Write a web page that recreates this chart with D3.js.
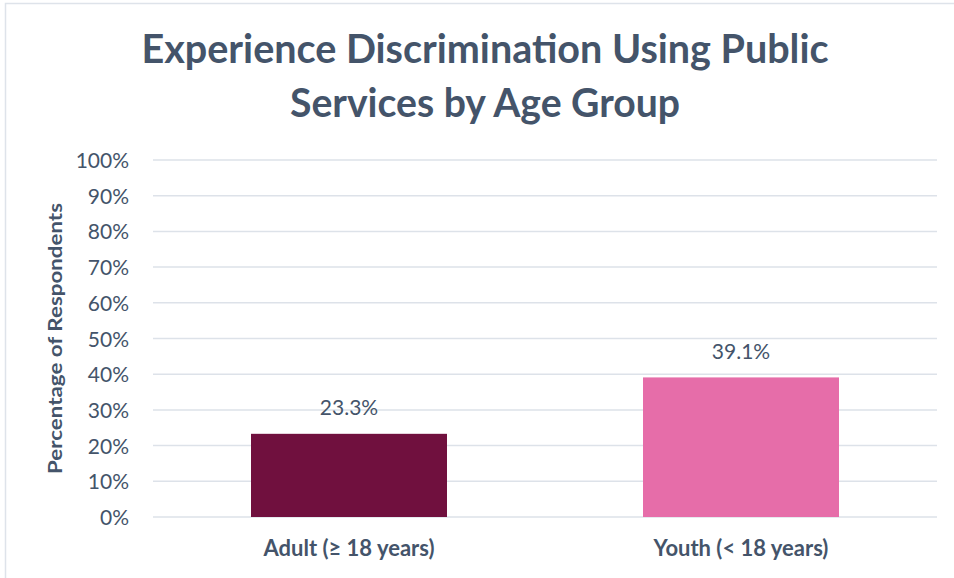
<!DOCTYPE html>
<html>
<head>
<meta charset="utf-8">
<script src="https://cdn.jsdelivr.net/npm/d3@7"></script>
<style>
  html, body { margin: 0; padding: 0; background: #fff; }
  svg { display: block; }
</style>
</head>
<body>
<svg id="chart" width="954" height="578"></svg>
<script>
const categories = ["Adult (\u2265 18 years)", "Youth (< 18 years)"];
const values = [23.3, 39.1];
const barColors = ["#70103E", "#E66DA9"];
const yTicks = [0, 10, 20, 30, 40, 50, 60, 70, 80, 90, 100];
const titleLines = ["Experience Discrimination Using Public", "Services by Age Group"];
const yAxisTitle = "Percentage of Respondents";

const textColor = "#44546A";
const font = "Lato, 'Open Sans', sans-serif";

const svg = d3.select("#chart");
const W = 954, H = 578;
const m = { left: 153, right: 17, top: 160, bottom: 61 };

// outer frame
svg.append("path")
  .attr("d", `M5.5,${H} V3.5 H${W}`)
  .attr("fill", "none").attr("stroke", "#DEE3EA").attr("stroke-width", 1.5);

const x = d3.scaleBand().domain(categories)
  .range([m.left, W - m.right]).paddingInner(0.5).paddingOuter(0.25);
const y = d3.scaleLinear().domain([0, 100]).range([H - m.bottom, m.top]);

function fit(sel, target) {
  const node = sel.node();
  const w = node.getComputedTextLength();
  if (Math.abs(w - target) > 2) {
    sel.attr("textLength", target).attr("lengthAdjust", "spacingAndGlyphs");
  }
}

// gridlines
svg.append("g").selectAll("line").data(yTicks).join("line")
  .attr("x1", m.left).attr("x2", W - m.right)
  .attr("y1", d => y(d)).attr("y2", d => y(d))
  .attr("stroke", "#DDE2E9").attr("stroke-width", 1.5);

// y axis labels
const yAxis = d3.axisLeft(y).tickValues(yTicks).tickFormat(d => d + "%").tickSize(0).tickPadding(0);
const gy = svg.append("g").attr("transform", `translate(129,0)`).call(yAxis);
gy.select(".domain").remove();
gy.selectAll("text")
  .attr("font-family", font).attr("font-size", 21).attr("fill", textColor)
  .attr("dy", "0.36em");

// bars
svg.append("g").selectAll("rect").data(values).join("rect")
  .attr("x", (d, i) => x(categories[i]))
  .attr("width", x.bandwidth())
  .attr("y", d => y(d))
  .attr("height", d => y(0) - y(d))
  .attr("fill", (d, i) => barColors[i]);

// data labels
svg.append("g").selectAll("text").data(values).join("text")
  .attr("x", (d, i) => x(categories[i]) + x.bandwidth() / 2)
  .attr("y", d => y(d) - 18.5)
  .attr("text-anchor", "middle")
  .attr("font-family", font).attr("font-size", 21).attr("fill", textColor)
  .text(d => d.toFixed(1) + "%");

// x axis labels
const xAxis = d3.axisBottom(x).tickSize(0).tickPadding(0);
const gx = svg.append("g").attr("transform", `translate(0,556)`).call(xAxis);
gx.select(".domain").remove();
gx.selectAll("text")
  .attr("dy", 0)
  .attr("font-family", font).attr("font-size", 22).attr("font-weight", "bold").attr("fill", textColor);

// y axis title
const yt = svg.append("text")
  .attr("transform", `translate(62,${(y(0) + y(100)) / 2}) rotate(-90)`)
  .attr("text-anchor", "middle")
  .attr("font-family", font).attr("font-size", 19).attr("font-weight", "bold").attr("fill", textColor)
  .text(yAxisTitle);
fit(yt, 271);

// title
const titleY = [63, 117];
const titleW = [687, 390];
titleLines.forEach((t, i) => {
  const tt = svg.append("text")
    .attr("x", 485).attr("y", titleY[i])
    .attr("text-anchor", "middle")
    .attr("font-family", font).attr("font-size", 41).attr("font-weight", "bold").attr("fill", textColor)
    .text(t);
  fit(tt, titleW[i]);
});
</script>
</body>
</html>
